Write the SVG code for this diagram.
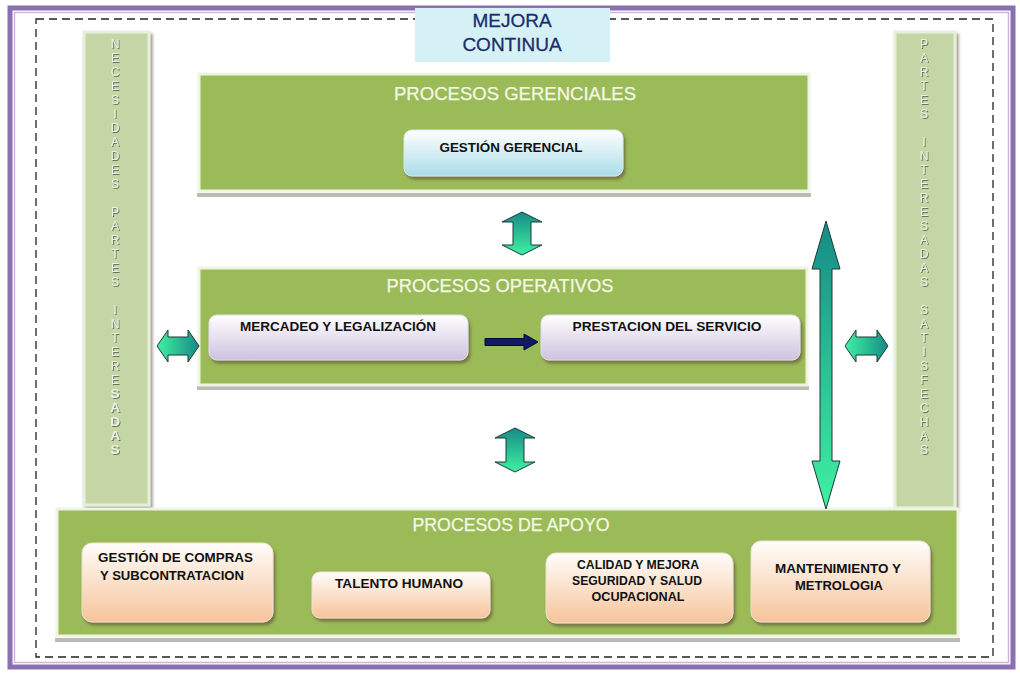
<svg xmlns="http://www.w3.org/2000/svg" width="1020" height="673" viewBox="0 0 1020 673">
<defs>
<style>
.panel{fill:#9bbb59;stroke:#eef3e2;stroke-width:3}
.pshadow{fill:#b9bcb4}
.bar{fill:#c4d5a6;stroke:#e8eedc;stroke-width:3}
.ptitle{font-family:"Liberation Sans",Arial,sans-serif;font-size:18.5px;fill:#f4f8e6;text-anchor:middle;stroke:#f4f8e6;stroke-width:0.25}
.btxt{font-family:"Liberation Sans",Arial,sans-serif;font-size:13.5px;font-weight:bold;fill:#111;text-anchor:middle}
.ltxt{font-family:"Liberation Sans",Arial,sans-serif;font-size:13.5px;font-weight:bold;fill:#111;text-anchor:start}
.vtxt{font-family:"Liberation Sans",Arial,sans-serif;font-size:12px;fill:#eef2e2;text-anchor:middle}
.arr{stroke:#1d3b33;stroke-width:1}
</style>
<linearGradient id="gCyan" x1="0" y1="0" x2="0" y2="1"><stop offset="0" stop-color="#ffffff"/><stop offset="1" stop-color="#a9dde8"/></linearGradient>
<linearGradient id="gLav" x1="0" y1="0" x2="0" y2="1"><stop offset="0" stop-color="#ffffff"/><stop offset="1" stop-color="#cdc2df"/></linearGradient>
<linearGradient id="gPeach" x1="0" y1="0" x2="0" y2="1"><stop offset="0" stop-color="#fffdfb"/><stop offset="1" stop-color="#f6c49a"/></linearGradient>
<linearGradient id="gV" x1="0" y1="0" x2="0" y2="1"><stop offset="0" stop-color="#168a86"/><stop offset="1" stop-color="#3ff2a2"/></linearGradient>
<linearGradient id="gHL" x1="0" y1="0" x2="1" y2="0"><stop offset="0" stop-color="#3ff2a2"/><stop offset="1" stop-color="#168a86"/></linearGradient>
<filter id="sh" x="-10%" y="-10%" width="130%" height="140%"><feDropShadow dx="2" dy="3" stdDeviation="1.5" flood-color="#5a4a30" flood-opacity="0.6"/></filter>
<filter id="tsh" x="-50%" y="-50%" width="200%" height="200%"><feDropShadow dx="1" dy="1" stdDeviation="0.5" flood-color="#6a775a" flood-opacity="1"/></filter>
</defs>
<rect width="1020" height="673" fill="#ffffff"/>
<!-- outer frame -->
<rect x="10" y="8" width="1003" height="659" fill="none" stroke="#8a70b0" stroke-width="5"/>
<rect x="14.5" y="12.5" width="994" height="650" fill="none" stroke="#c9b8dc" stroke-width="1.5"/>
<rect x="36" y="19" width="957" height="638" fill="none" stroke="#222" stroke-width="1.3" stroke-dasharray="8,5"/>

<g id="mejora-continua">
<rect x="415" y="8" width="195" height="54" fill="#d6f1f6"/>
<text x="512" y="27" font-family="Liberation Sans,Arial,sans-serif" font-size="19" fill="#1b2c6c" stroke="#1b2c6c" stroke-width="0.3" text-anchor="middle">MEJORA</text>
<text x="512" y="51" font-family="Liberation Sans,Arial,sans-serif" font-size="19" fill="#1b2c6c" stroke="#1b2c6c" stroke-width="0.3" text-anchor="middle">CONTINUA</text>
</g>

<g id="necesidades-bar">
<rect x="84" y="32" width="65" height="473" class="bar" filter="url(#sh)"/>
<text class="vtxt" filter="url(#tsh)"><tspan x="115" y="48">N</tspan><tspan x="115" dy="14">E</tspan><tspan x="115" dy="14">C</tspan><tspan x="115" dy="14">E</tspan><tspan x="115" dy="14">S</tspan><tspan x="115" dy="14">I</tspan><tspan x="115" dy="14">D</tspan><tspan x="115" dy="14">A</tspan><tspan x="115" dy="14">D</tspan><tspan x="115" dy="14">E</tspan><tspan x="115" dy="14">S</tspan><tspan x="115" dy="28">P</tspan><tspan x="115" dy="14">A</tspan><tspan x="115" dy="14">R</tspan><tspan x="115" dy="14">T</tspan><tspan x="115" dy="14">E</tspan><tspan x="115" dy="14">S</tspan><tspan x="115" dy="28">I</tspan><tspan x="115" dy="14">N</tspan><tspan x="115" dy="14">T</tspan><tspan x="115" dy="14">E</tspan><tspan x="115" dy="14">R</tspan><tspan x="115" dy="14">E</tspan><tspan x="115" dy="14" font-weight="bold" font-size="13.5">S</tspan><tspan x="115" dy="14" font-weight="bold" font-size="13.5">A</tspan><tspan x="115" dy="14" font-weight="bold" font-size="13.5">D</tspan><tspan x="115" dy="14" font-weight="bold" font-size="13.5">A</tspan><tspan x="115" dy="14" font-weight="bold" font-size="13.5">S</tspan></text>
</g>

<g id="satisfechas-bar">
<rect x="895" y="32" width="60" height="476" class="bar" filter="url(#sh)"/>
<text class="vtxt" filter="url(#tsh)"><tspan x="924" y="48">P</tspan><tspan x="924" dy="14">A</tspan><tspan x="924" dy="14">R</tspan><tspan x="924" dy="14">T</tspan><tspan x="924" dy="14">E</tspan><tspan x="924" dy="14">S</tspan><tspan x="924" dy="28">I</tspan><tspan x="924" dy="14">N</tspan><tspan x="924" dy="14">T</tspan><tspan x="924" dy="14">E</tspan><tspan x="924" dy="14">R</tspan><tspan x="924" dy="14">E</tspan><tspan x="924" dy="14">S</tspan><tspan x="924" dy="14">A</tspan><tspan x="924" dy="14">D</tspan><tspan x="924" dy="14">A</tspan><tspan x="924" dy="14">S</tspan><tspan x="924" dy="28">S</tspan><tspan x="924" dy="14">A</tspan><tspan x="924" dy="14">T</tspan><tspan x="924" dy="14">I</tspan><tspan x="924" dy="14">S</tspan><tspan x="924" dy="14">F</tspan><tspan x="924" dy="14">E</tspan><tspan x="924" dy="14">C</tspan><tspan x="924" dy="14">H</tspan><tspan x="924" dy="14">A</tspan><tspan x="924" dy="14">S</tspan></text>
</g>

<g id="procesos-gerenciales">
<rect x="197" y="193" width="614" height="4" class="pshadow"/>
<rect x="199" y="74" width="610" height="117" class="panel"/>
<text x="515" y="100" class="ptitle" textLength="242" lengthAdjust="spacingAndGlyphs">PROCESOS GERENCIALES</text>
</g>
<g id="gestion-gerencial">
<rect x="404" y="130" width="219" height="46" rx="8" fill="url(#gCyan)" stroke="#d8e8ec" filter="url(#sh)"/>
<text x="511" y="152" class="btxt" textLength="143" lengthAdjust="spacingAndGlyphs">GESTIÓN GERENCIAL</text>
</g>

<g id="procesos-operativos">
<rect x="197" y="386" width="612" height="4" class="pshadow"/>
<rect x="199" y="268" width="608" height="117" class="panel"/>
<text x="500" y="292" class="ptitle" textLength="227" lengthAdjust="spacingAndGlyphs">PROCESOS OPERATIVOS</text>
</g>
<g id="mercadeo">
<rect x="209" y="315" width="259" height="45" rx="8" fill="url(#gLav)" stroke="#e0dcea" filter="url(#sh)"/>
<text x="338" y="331" class="btxt" textLength="196" lengthAdjust="spacingAndGlyphs">MERCADEO Y LEGALIZACIÓN</text>
</g>
<g id="prestacion">
<rect x="541" y="315" width="259" height="45" rx="8" fill="url(#gLav)" stroke="#e0dcea" filter="url(#sh)"/>
<text x="667" y="331" class="btxt" textLength="189" lengthAdjust="spacingAndGlyphs">PRESTACION DEL SERVICIO</text>
</g>

<g id="procesos-apoyo">
<rect x="55" y="638" width="905" height="4" class="pshadow"/>
<rect x="57" y="509" width="901" height="127" class="panel"/>
<text x="511" y="531" class="ptitle" textLength="197" lengthAdjust="spacingAndGlyphs">PROCESOS DE APOYO</text>
</g>
<g id="compras">
<rect x="82" y="543" width="191" height="79" rx="10" fill="url(#gPeach)" stroke="#f0e0d0" filter="url(#sh)"/>
<text x="98" y="562" class="ltxt" textLength="155" lengthAdjust="spacingAndGlyphs">GESTIÓN DE COMPRAS</text>
<text x="100" y="580" class="ltxt" textLength="144" lengthAdjust="spacingAndGlyphs">Y SUBCONTRATACION</text>
</g>
<g id="talento">
<rect x="312" y="572" width="178" height="46" rx="8" fill="url(#gPeach)" stroke="#f0e0d0" filter="url(#sh)"/>
<text x="399" y="588" class="btxt" textLength="128" lengthAdjust="spacingAndGlyphs">TALENTO HUMANO</text>
</g>
<g id="calidad">
<rect x="546" y="553" width="187" height="70" rx="10" fill="url(#gPeach)" stroke="#f0e0d0" filter="url(#sh)"/>
<text x="638" y="569" class="btxt" textLength="122" lengthAdjust="spacingAndGlyphs">CALIDAD Y MEJORA</text>
<text x="637" y="585" class="btxt" textLength="130" lengthAdjust="spacingAndGlyphs">SEGURIDAD Y SALUD</text>
<text x="638" y="601" class="btxt" textLength="93" lengthAdjust="spacingAndGlyphs">OCUPACIONAL</text>
</g>
<g id="mantenimiento">
<rect x="751" y="541" width="179" height="81" rx="10" fill="url(#gPeach)" stroke="#f0e0d0" filter="url(#sh)"/>
<text x="838" y="573" class="btxt" textLength="126" lengthAdjust="spacingAndGlyphs">MANTENIMIENTO Y</text>
<text x="839" y="590" class="btxt" textLength="88" lengthAdjust="spacingAndGlyphs">METROLOGIA</text>
</g>

<g id="connectors">
<path class="arr" fill="url(#gV)" d="M522,212 L542,222 L531,222 L531,245 L542,245 L522,255 L502,245 L513,245 L513,222 L502,222 Z"/>
<path class="arr" fill="url(#gV)" d="M515,428 L535,438 L524,438 L524,462 L535,462 L515,472 L495,462 L506,462 L506,438 L495,438 Z"/>
<path class="arr" fill="url(#gHL)" d="M157,346 L168,330 L168,337 L188,337 L188,330 L199,346 L188,362 L188,355 L168,355 L168,362 Z"/>
<path class="arr" fill="url(#gHL)" d="M845,346 L856,330 L856,337 L877,337 L877,330 L888,346 L877,362 L877,355 L856,355 L856,362 Z"/>
<path class="arr" fill="url(#gV)" d="M826,221 L840,269 L832,269 L832,461 L840,461 L826,509 L812,461 L820,461 L820,269 L812,269 Z"/>
<path d="M485,338.5 L524,338.5 L524,334 L538,342 L524,350 L524,345.5 L485,345.5 Z" fill="#0f1b62" stroke="#050a30" stroke-width="1"/>
</g>
</svg>
